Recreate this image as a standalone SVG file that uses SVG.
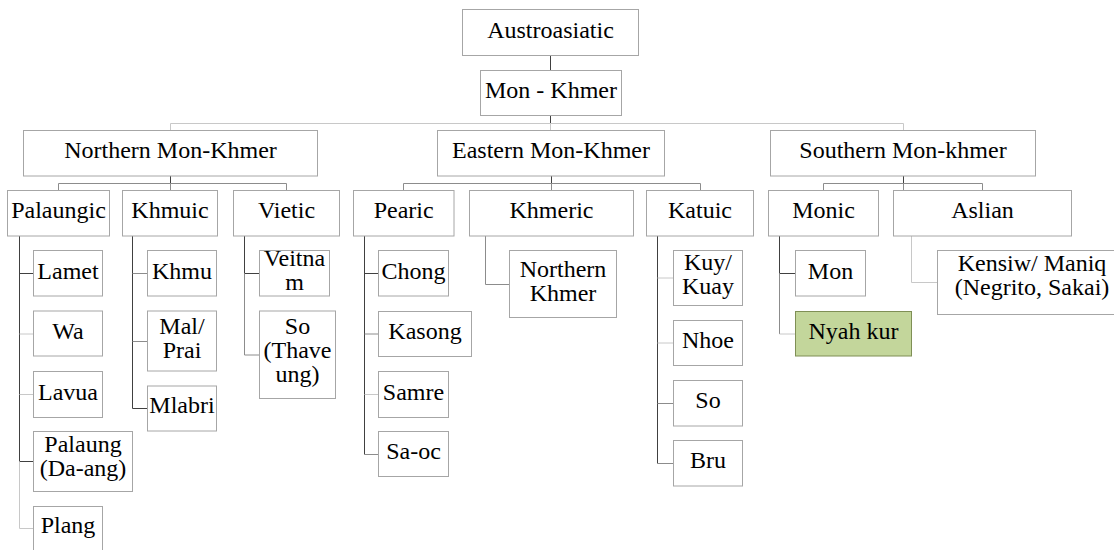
<svg xmlns="http://www.w3.org/2000/svg" width="1114" height="550" viewBox="0 0 1114 550">
<style>
.box{fill:#ffffff;stroke:#a6a6a6;stroke-width:1}
.hl{fill:#c3d69b;stroke:#7f8f55;stroke-width:1}
text{fill:#000000;text-anchor:middle}
.cd{fill:none;stroke:#404040;stroke-width:1}
.cm{fill:none;stroke:#8c8c8c;stroke-width:1}
.cl{fill:none;stroke:#c8c8c8;stroke-width:1}
</style>
<rect width="1114" height="550" fill="#ffffff"/>
<g id="connectors">
<path class="cd" d="M550.5 55.5V70.5M550.5 115.5V123.5"/>
<path class="cl" d="M170.5 130.5V123.5H903.5V130.5M550.5 123.5V130.5"/>
<path class="cd" d="M170.5 176V183.5M551.5 176V183.5M903.5 176V183.5"/>
<path class="cm" d="M58.5 190.5V183.5H286.5V190.5M170.5 183.5V190.5"/>
<path class="cm" d="M403.5 190.5V183.5H700.5V190.5M551.5 183.5V190.5"/>
<path class="cm" d="M823.5 190.5V183.5H982.5V190.5M903.5 183.5V190.5"/>
<path class="cd" d="M19.5 236V461.5M19.5 273.5H33.5M19.5 461.5H33.5"/>
<path class="cl" d="M19.5 461.5V528.5H33.5M19.5 334H33.5M19.5 394.5H33.5"/>
<path class="cd" d="M132.5 236V408.5H147.5"/>
<path class="cm" d="M132.5 273.5H147.5M132.5 341.5H147.5"/>
<path class="cd" d="M244.5 236V273.5H259.5"/>
<path class="cm" d="M244.5 273.5V355H259.5"/>
<path class="cd" d="M364.5 236V454.5M364.5 273.5H378.5"/>
<path class="cm" d="M364.5 334H378.5M364.5 454.5H378.5"/>
<path class="cl" d="M364.5 394.5H378.5"/>
<path class="cm" d="M485.5 236V284.5H509.5"/>
<path class="cd" d="M657.5 236V463.5"/>
<path class="cl" d="M657.5 278H673.5M657.5 343H673.5"/>
<path class="cm" d="M657.5 403.5H673.5M657.5 463.5H673.5"/>
<path class="cd" d="M779.5 236V273.5H795.5"/>
<path class="cm" d="M779.5 273.5V334"/>
<path class="cl" d="M779.5 334H795.5"/>
<path class="cl" d="M911.5 236V282.5H937.5"/>
</g>
<g id="nodes" font-family="Liberation Serif, Times New Roman, serif" font-size="24">
<g id="n-austroasiatic"><rect class="box" x="462.5" y="9.5" width="176" height="46"/><text x="550.5" y="37.5">Austroasiatic</text></g>
<g id="n-monkhmer"><rect class="box" x="480.5" y="70.5" width="141" height="45"/><text x="551" y="97.5">Mon - Khmer</text></g>
<g id="n-northern"><rect class="box" x="23.5" y="130.5" width="294" height="45.5"/><text x="170.5" y="157.5">Northern Mon-Khmer</text></g>
<g id="n-eastern"><rect class="box" x="437.5" y="130.5" width="227" height="45.5"/><text x="551" y="157.5">Eastern Mon-Khmer</text></g>
<g id="n-southern"><rect class="box" x="770.5" y="130.5" width="265" height="45.5"/><text x="903" y="157.5">Southern Mon-khmer</text></g>
<g id="n-palaungic"><rect class="box" x="7.5" y="190.5" width="102" height="45.5"/><text x="58.5" y="217.5">Palaungic</text></g>
<g id="n-khmuic"><rect class="box" x="122.5" y="190.5" width="95" height="45.5"/><text x="170" y="217.5">Khmuic</text></g>
<g id="n-vietic"><rect class="box" x="233.5" y="190.5" width="106" height="45.5"/><text x="286.5" y="217.5">Vietic</text></g>
<g id="n-pearic"><rect class="box" x="353.5" y="190.5" width="100.5" height="45.5"/><text x="403.7" y="217.5">Pearic</text></g>
<g id="n-khmeric"><rect class="box" x="469.5" y="190.5" width="164" height="45.5"/><text x="551.5" y="217.5">Khmeric</text></g>
<g id="n-katuic"><rect class="box" x="646.5" y="190.5" width="107" height="45.5"/><text x="700" y="217.5">Katuic</text></g>
<g id="n-monic"><rect class="box" x="768.5" y="190.5" width="110" height="45.5"/><text x="823.5" y="217.5">Monic</text></g>
<g id="n-aslian"><rect class="box" x="893.5" y="190.5" width="178" height="45.5"/><text x="982.5" y="217.5">Aslian</text></g>
<g id="n-lamet"><rect class="box" x="33.5" y="250.5" width="69" height="45.5"/><text x="68" y="278.5">Lamet</text></g>
<g id="n-wa"><rect class="box" x="33.5" y="311" width="69" height="45"/><text x="68" y="338.5">Wa</text></g>
<g id="n-lavua"><rect class="box" x="33.5" y="371.5" width="69" height="46"/><text x="68" y="399.5">Lavua</text></g>
<g id="n-palaung"><rect class="box" x="33.5" y="431.5" width="99" height="60"/><text x="83" y="452">Palaung</text><text x="83" y="476">(Da-ang)</text></g>
<g id="n-plang"><rect class="box" x="33.5" y="506.5" width="69" height="50"/><text x="68" y="533">Plang</text></g>
<g id="n-khmu"><rect class="box" x="147.5" y="250.5" width="69" height="45.5"/><text x="182" y="278.5">Khmu</text></g>
<g id="n-malprai"><rect class="box" x="147.5" y="311" width="69" height="60"/><text x="182" y="334">Mal/</text><text x="182" y="358">Prai</text></g>
<g id="n-mlabri"><rect class="box" x="147.5" y="386" width="69" height="45"/><text x="182" y="413">Mlabri</text></g>
<g id="n-veitnam"><rect class="box" x="259.5" y="250.5" width="70" height="45.5"/><text x="294.5" y="266">Veitna</text><text x="294.5" y="290">m</text></g>
<g id="n-so-thaveung"><rect class="box" x="259.5" y="311" width="76" height="87.5"/><text x="297.5" y="334">So</text><text x="297.5" y="358">(Thave</text><text x="297.5" y="382">ung)</text></g>
<g id="n-chong"><rect class="box" x="378.5" y="250.5" width="70" height="45.5"/><text x="413.5" y="278.5">Chong</text></g>
<g id="n-kasong"><rect class="box" x="378.5" y="311.5" width="93" height="45"/><text x="425" y="338.5">Kasong</text></g>
<g id="n-samre"><rect class="box" x="378.5" y="371.5" width="70" height="46"/><text x="413.5" y="399.5">Samre</text></g>
<g id="n-saoc"><rect class="box" x="378.5" y="431.5" width="70" height="45"/><text x="413.5" y="459">Sa-oc</text></g>
<g id="n-northernkhmer"><rect class="box" x="509.5" y="250.5" width="107" height="67"/><text x="563" y="276.5">Northern</text><text x="563" y="300.5">Khmer</text></g>
<g id="n-kuy"><rect class="box" x="673.5" y="250.5" width="69" height="55"/><text x="708" y="269.5">Kuy/</text><text x="708" y="293.5">Kuay</text></g>
<g id="n-nhoe"><rect class="box" x="673.5" y="320.5" width="69" height="45"/><text x="708" y="348">Nhoe</text></g>
<g id="n-so"><rect class="box" x="673.5" y="380.5" width="69" height="45.5"/><text x="708" y="408">So</text></g>
<g id="n-bru"><rect class="box" x="673.5" y="440.5" width="69" height="45.5"/><text x="708" y="468">Bru</text></g>
<g id="n-mon"><rect class="box" x="795.5" y="250.5" width="70" height="45.5"/><text x="830.5" y="278.5">Mon</text></g>
<g id="n-nyahkur"><rect class="hl" x="795.5" y="311.5" width="116" height="44.5"/><text x="853.5" y="338.5">Nyah kur</text></g>
<g id="n-kensiw"><rect class="box" x="937.5" y="250.5" width="190" height="64"/><text x="1032" y="271">Kensiw/ Maniq</text><text x="1032" y="295">(Negrito, Sakai)</text></g>
</g>
</svg>
